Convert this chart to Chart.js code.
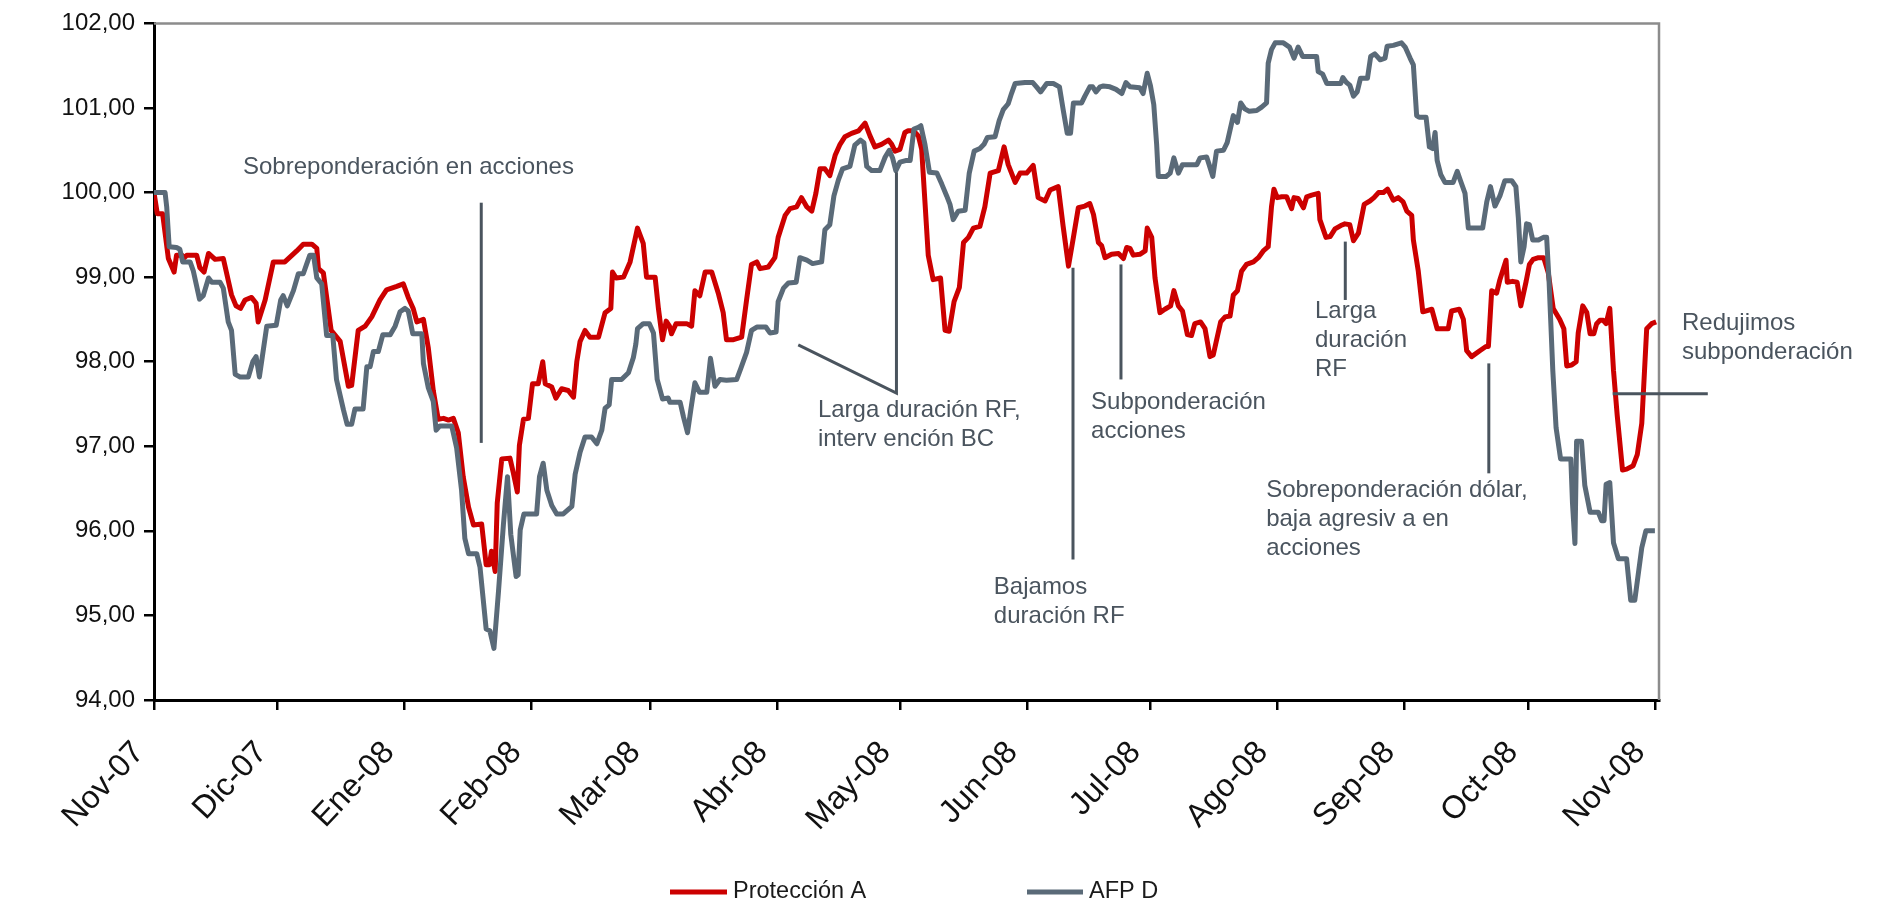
<!DOCTYPE html>
<html><head><meta charset="utf-8">
<script src="https://cdn.jsdelivr.net/npm/chart.js@4.4.0/dist/chart.umd.min.js"></script>
<style>html,body{margin:0;padding:0;background:#fff;overflow:hidden}canvas{display:block}</style>
</head><body>
<canvas id="c" width="1877" height="907"></canvas>
<script>
// ---- data ----
const seriesNames = ['Protección A', 'AFP D'];
const monthDays = [0,30,61,92,121,152,182,213,243,274,305,335,366];
const monthLabels = ['Nov-07','Dic-07','Ene-08','Feb-08','Mar-08','Abr-08','May-08','Jun-08','Jul-08','Ago-08','Sep-08','Oct-08','Nov-08'];

const dayA = [0,0.8,2.1,3.5,4.9,5.5,6.8,7.2,8.0,10.4,11.2,12.2,13.3,14.9,16.9,18.9,20.0,21.1,22.2,23.8,24.9,25.4,27.1,29.1,31.9,34.8,36.4,38.5,39.7,40.1,41.3,43.2,45.4,47.4,48.2,49.8,51.5,53.1,55.1,56.7,59.2,60.8,
62.0,63.2,64.1,65.7,66.9,68.1,69.3,70.6,71.8,73.0,74.2,75.4,76.7,77.9,79.9,81.0,81.8,82.3,83.2,83.7,84.8,86.8,87.6,88.6,89.1,90.1,91.3,92.3,93.7,94.8,95.4,97.0,98.0,99.4,101.0,102.3,103.1,103.9,105.1,106.3,108.4,110.0,111.4,111.8,112.7,114.5,116.1,117.9,119.3,120.1,122.2,
123.0,124.0,124.9,125.7,126.2,127.3,129.9,131.1,131.9,133.1,134.4,136.0,137.6,138.8,139.6,141.3,143.3,144.5,145.7,147.0,147.8,149.8,151.4,152.2,153.9,155.1,156.7,157.9,159.2,160.4,161.4,162.4,163.6,164.8,166.1,167.3,168.5,170.1,171.8,173.4,174.6,175.8,177.4,179.1,179.9,180.7,181.9,183.1,
183.9,185.2,186.4,187.2,188.0,188.8,190.0,191.8,192.9,193.9,195.1,196.4,197.4,198.6,199.8,201.4,202.6,203.9,205.9,207.3,208.3,210.0,211.2,212.8,214.4,215.6,217.3,218.5,220.5,221.7,223.0,224.2,225.4,227.0,228.2,229.1,230.3,231.1,231.9,233.5,235.2,236.4,237.2,238.0,238.8,240.4,241.7,242.2,243.3,244.1,245.3,
246.5,247.9,248.7,249.8,250.8,252.0,253.0,253.8,255.2,256.3,257.5,258.3,260.1,261.2,262.4,263.2,264.2,265.2,266.4,268.1,269.3,270.5,271.7,272.5,273.1,273.9,275.0,276.2,277.4,278.0,279.0,280.3,281.1,282.3,283.9,284.3,285.8,286.8,288.0,289.4,290.4,291.6,292.5,293.7,295.1,296.5,297.5,298.6,299.8,300.8,302.2,303.4,304.6,305.5,
306.7,307.1,308.3,309.4,311.6,312.9,315.6,316.4,318.3,319.3,320.1,321.3,323.3,324.8,325.4,326.2,327.4,328.2,329.7,330.0,331.3,332.4,333.3,334.6,335.4,336.3,337.6,338.9,340.0,341.2,342.8,343.8,344.5,345.7,346.8,347.3,348.4,349.4,350.2,351.1,351.8,352.6,353.4,354.1,355.0,355.9,356.8,358.1,359.1,360.7,361.7,362.8,364.0,365.2,366.3];
const protA = [100.00,99.75,99.75,99.22,99.06,99.26,99.26,99.22,99.26,99.26,99.11,99.06,99.28,99.21,99.22,98.79,98.66,98.63,98.73,98.76,98.69,98.47,98.73,99.18,99.18,99.31,99.39,99.39,99.34,99.10,99.05,98.37,98.24,97.71,97.72,98.37,98.42,98.53,98.73,98.85,98.89,98.92,
98.76,98.63,98.47,98.50,98.16,97.66,97.32,97.33,97.31,97.33,97.16,96.64,96.28,96.07,96.08,95.60,95.60,95.76,95.52,96.33,96.85,96.86,96.69,96.46,97.01,97.32,97.33,97.74,97.74,98.00,97.74,97.70,97.57,97.68,97.66,97.58,98.00,98.24,98.37,98.29,98.29,98.58,98.63,99.06,98.99,99.00,99.18,99.58,99.40,99.00,99.00,
98.63,98.26,98.48,98.42,98.33,98.45,98.45,98.42,98.84,98.78,99.06,99.06,98.81,98.58,98.26,98.26,98.29,98.73,99.15,99.18,99.10,99.12,99.23,99.47,99.73,99.81,99.83,99.94,99.83,99.78,99.99,100.28,100.28,100.20,100.44,100.57,100.66,100.70,100.73,100.82,100.67,100.54,100.57,100.62,100.57,100.49,100.51,100.71,
100.73,100.73,100.67,100.51,99.89,99.26,98.97,98.99,98.37,98.36,98.71,98.88,99.41,99.47,99.58,99.60,99.83,100.23,100.26,100.54,100.33,100.12,100.23,100.23,100.32,99.94,99.90,100.03,100.07,99.60,99.13,99.47,99.82,99.84,99.87,99.74,99.41,99.37,99.23,99.27,99.28,99.22,99.35,99.34,99.26,99.27,99.31,99.58,99.47,98.99,98.58,
98.62,98.66,98.84,98.66,98.60,98.32,98.31,98.45,98.47,98.39,98.06,98.08,98.47,98.53,98.54,98.79,98.84,99.07,99.15,99.18,99.23,99.31,99.36,99.83,100.04,99.94,99.95,99.95,99.81,99.94,99.93,99.82,99.95,99.97,99.99,99.68,99.47,99.48,99.57,99.61,99.63,99.62,99.43,99.52,99.86,99.90,99.94,100.00,100.00,100.04,99.91,99.94,99.89,99.78,
99.73,99.44,99.07,98.59,98.62,98.39,98.39,98.60,98.62,98.50,98.13,98.06,98.13,98.18,98.18,98.84,98.81,98.97,99.20,98.94,98.95,98.94,98.66,98.95,99.15,99.21,99.23,99.23,99.05,98.63,98.50,98.39,97.95,97.96,98.00,98.34,98.66,98.58,98.33,98.33,98.45,98.49,98.49,98.45,98.63,97.90,97.37,96.72,96.73,96.77,96.90,97.27,98.39,98.45,98.47];

const dayD = [0,2.7,3.1,3.7,5.5,6.3,7.0,8.8,9.6,11.1,12.0,13.3,14.1,16.1,16.9,18.1,18.9,19.8,21.0,23.0,24.1,24.9,25.7,27.5,29.8,30.9,31.5,32.5,34.0,35.2,36.4,37.2,38.0,38.9,39.7,40.9,42.1,43.6,44.5,46.2,47.1,48.2,49.0,51.0,51.9,52.7,53.5,54.7,55.8,57.6,58.8,60.0,61.2,62.0,
63.1,65.3,65.7,66.9,68.1,68.8,69.7,72.6,73.8,75.0,75.8,76.7,78.7,79.5,81.0,81.9,82.9,84.0,85.2,86.2,87.0,88.3,88.8,89.3,90.2,93.3,94.0,94.9,95.8,97.0,98.2,99.8,101.9,102.7,103.9,105.1,106.7,108.0,109.2,110.0,111.0,111.6,114.0,115.7,116.9,117.5,117.9,119.3,120.8,
121.8,122.7,124.0,125.4,125.8,128.3,129.1,130.1,130.9,131.9,133.0,134.8,135.7,136.8,138.0,139.6,142.1,143.1,144.5,145.7,147.0,149.2,150.2,151.7,152.2,153.5,154.7,156.6,157.5,159.2,160.6,162.8,163.6,164.8,165.8,166.9,167.9,169.7,170.9,172.3,173.1,173.8,175.0,177.0,178.3,179.3,180.1,180.9,181.9,183.5,
184.4,185.3,186.4,187.0,188.0,189.1,190.9,192.1,193.3,194.1,194.9,196.1,197.8,198.8,200.0,201.4,202.4,203.2,205.1,206.1,207.1,208.3,209.1,210.0,212.4,214.3,215.2,216.2,217.7,219.3,220.8,221.7,222.7,223.5,224.2,226.2,227.0,228.2,228.9,229.7,230.7,231.5,233.1,234.6,236.0,237.0,238.0,240.4,241.2,242.2,243.0,243.8,244.5,
244.9,246.8,247.8,248.7,249.8,250.8,254.3,255.1,256.7,257.3,258.2,259.1,260.8,261.7,263.2,264.2,265.0,266.0,267.1,268.9,270.1,271.3,271.7,272.5,273.4,275.4,276.9,278.0,279.0,280.1,283.5,283.9,285.0,286.0,289.4,289.9,290.8,291.6,292.5,293.4,294.2,295.9,296.7,297.7,299.0,300.2,300.7,302.2,304.2,305.1,306.3,
307.1,307.9,308.5,310.2,311.0,311.8,312.4,312.9,313.8,314.8,316.8,317.8,318.6,319.7,320.5,324.0,325.0,325.9,327.0,328.2,329.4,331.1,332.1,332.7,333.3,334.1,334.7,335.4,336.2,337.6,338.8,339.6,340.2,341.1,341.9,343.0,345.5,345.9,346.5,346.9,348.1,348.9,350.2,352.2,353.0,353.6,354.1,355.0,355.9,357.1,359.1,360.1,361.1,362.8,363.8,366.0];
const afpD = [100.00,100.00,99.83,99.36,99.35,99.33,99.18,99.18,99.07,98.74,98.78,98.99,98.94,98.94,98.87,98.47,98.37,97.85,97.82,97.82,98.00,98.06,97.82,98.42,98.43,98.73,98.78,98.66,98.84,99.04,99.04,99.15,99.26,99.26,98.99,98.92,98.31,98.31,97.79,97.43,97.26,97.26,97.44,97.44,97.94,97.94,98.12,98.12,98.32,98.32,98.42,98.59,98.63,98.60,
98.33,98.33,97.98,97.69,97.53,97.19,97.24,97.24,96.98,96.48,95.91,95.73,95.73,95.57,94.84,94.82,94.61,95.28,96.07,96.64,95.96,95.46,95.48,96.01,96.20,96.20,96.64,96.80,96.48,96.30,96.20,96.20,96.29,96.67,96.93,97.11,97.11,97.03,97.19,97.45,97.49,97.79,97.79,97.87,98.05,98.21,98.39,98.45,98.45,
98.34,97.79,97.56,97.57,97.52,97.52,97.35,97.16,97.43,97.75,97.64,97.64,98.04,97.71,97.79,97.78,97.79,97.92,98.11,98.37,98.41,98.41,98.34,98.35,98.71,98.87,98.93,98.94,99.23,99.20,99.16,99.18,99.56,99.62,99.96,100.15,100.28,100.31,100.56,100.62,100.59,100.31,100.26,100.26,100.42,100.50,100.41,100.26,100.36,100.38,
100.38,100.75,100.77,100.79,100.57,100.24,100.23,100.10,99.96,99.86,99.68,99.78,99.79,100.23,100.49,100.52,100.57,100.65,100.66,100.85,100.98,101.05,101.17,101.29,101.30,101.30,101.25,101.19,101.29,101.29,101.25,100.98,100.70,100.70,101.06,101.06,101.14,101.25,101.25,101.19,101.25,101.26,101.25,101.22,101.17,101.30,101.25,101.24,101.17,101.41,101.26,101.04,100.57,
100.19,100.19,100.23,100.41,100.23,100.33,100.33,100.41,100.42,100.33,100.19,100.49,100.50,100.59,100.91,100.83,101.06,100.99,100.96,100.97,101.01,101.06,101.53,101.69,101.77,101.77,101.72,101.59,101.72,101.61,101.61,101.43,101.40,101.29,101.29,101.36,101.30,101.27,101.14,101.19,101.35,101.35,101.61,101.64,101.57,101.59,101.73,101.74,101.77,101.72,101.59,
101.51,100.91,100.89,100.89,100.54,100.52,100.71,100.38,100.21,100.12,100.12,100.25,100.14,99.99,99.58,99.58,99.89,100.07,99.84,99.96,100.14,100.14,100.07,99.70,99.18,99.36,99.63,99.62,99.44,99.44,99.47,99.47,98.94,97.90,97.22,96.85,96.85,96.33,95.85,97.06,97.06,96.54,96.22,96.22,96.12,96.12,96.55,96.57,95.86,95.67,95.67,95.18,95.18,95.80,96.00,96.00];

// annotations: text anchored at (day, value of first line middle); leader lines as polylines in (day, value)
const noteTexts = [
  {x:21.7,  y:100.30, text:['Sobreponderación en acciones']},
  {x:161.9, y:97.42,  text:['Larga duración RF,','interv ención BC']},
  {x:204.8, y:95.33,  text:['Bajamos','duración RF']},
  {x:228.5, y:97.52,  text:['Subponderación','acciones']},
  {x:283.1, y:98.59,  text:['Larga','duración','RF']},
  {x:271.2, y:96.48,  text:['Sobreponderación dólar,','baja agresiv a en','acciones']},
  {x:372.6, y:98.45,  text:['Redujimos','subponderación']}
];
const noteLines = [
  [[79.8,99.88],[79.8,97.04]],
  [[157.1,98.20],[181.05,97.63],[181.05,100.24]],
  [[224.1,99.11],[224.1,95.66]],
  [[235.8,99.15],[235.8,97.79]],
  [[290.5,99.42],[290.5,98.73]],
  [[325.5,97.98],[325.5,96.68]],
  [[355.7,97.62],[378.9,97.62]]
];

// ---- styles ----
const FAM = "'Liberation Sans', Arial, Helvetica, sans-serif";
const COLORS = ['#cc0000', '#5a6a78'];
const NOTE_COLOR = '#4a545e';
Chart.defaults.font.family = FAM;

const decor = {
  id: 'decor',
  afterDraw(chart) {
    const {ctx, chartArea: a, scales: {x, y}} = chart;
    ctx.save();
    // top & right frame
    ctx.strokeStyle = '#8c8c8c'; ctx.lineWidth = 2.5;
    ctx.beginPath(); ctx.moveTo(a.left, a.top); ctx.lineTo(a.right, a.top); ctx.lineTo(a.right, a.bottom); ctx.stroke();
    // leader lines
    ctx.strokeStyle = NOTE_COLOR; ctx.lineWidth = 3; ctx.lineCap = 'butt';
    noteLines.forEach(pl => {
      ctx.beginPath();
      pl.forEach((p, i) => { const px = x.getPixelForValue(p[0]), py = y.getPixelForValue(p[1]); i ? ctx.lineTo(px, py) : ctx.moveTo(px, py); });
      ctx.stroke();
    });
    // notes
    ctx.fillStyle = NOTE_COLOR; ctx.font = '24px ' + FAM; ctx.textAlign = 'left'; ctx.textBaseline = 'middle';
    noteTexts.forEach(n => {
      const px = x.getPixelForValue(n.x), py = y.getPixelForValue(n.y);
      n.text.forEach((t, i) => ctx.fillText(t, px, py + i * 29));
    });
    // legend
    const items = [{x0: 670, x1: 727}, {x0: 1027, x1: 1083}];
    const ly = 892;
    ctx.font = '23.5px ' + FAM; ctx.fillStyle = '#1a1a1a';
    chart.data.datasets.forEach((ds, i) => {
      const it = items[i];
      ctx.strokeStyle = ds.borderColor; ctx.lineWidth = 5;
      ctx.beginPath(); ctx.moveTo(it.x0, ly); ctx.lineTo(it.x1, ly); ctx.stroke();
      ctx.fillText(ds.label, it.x1 + 6, ly);
    });
    ctx.restore();
  }
};

new Chart(document.getElementById('c'), {
  type: 'line',
  data: {
    datasets: [
      {label: seriesNames[0], data: dayA.map((d, i) => ({x: d, y: protA[i]})), borderColor: COLORS[0], borderWidth: 5, pointRadius: 0, tension: 0, borderJoinStyle: 'round', order: 2},
      {label: seriesNames[1], data: dayD.map((d, i) => ({x: d, y: afpD[i]})), borderColor: COLORS[1], borderWidth: 5, pointRadius: 0, tension: 0, borderJoinStyle: 'round', order: 1}
    ]
  },
  options: {
    responsive: false, animation: false, devicePixelRatio: 1,
    layout: {padding: {top: 22, right: 218, left: 0, bottom: 0}},
    plugins: {legend: {display: false}, tooltip: {enabled: false}},
    scales: {
      x: {
        type: 'linear', min: 0, max: 367,
        afterBuildTicks: a => { a.ticks = monthDays.map(v => ({value: v})); },
        afterFit: s => { s.height = 207; },
        ticks: {autoSkip: false, maxRotation: 47, minRotation: 47, padding: 24, labelOffset: -15, color: '#111', font: {family: FAM, size: 32},
          callback: v => { const i = monthDays.indexOf(v); return i >= 0 ? monthLabels[i] : ''; }},
        grid: {drawOnChartArea: false, drawTicks: true, tickLength: 10, color: '#000', lineWidth: 2.5},
        border: {display: true, color: '#000', width: 3}
      },
      y: {
        min: 94, max: 102,
        afterFit: s => { s.width = 154; },
        ticks: {stepSize: 1, padding: 9, color: '#111', font: {family: FAM, size: 24},
          callback: v => Number(v).toFixed(2).replace('.', ',')},
        grid: {drawOnChartArea: false, drawTicks: true, tickLength: 10, color: '#000', lineWidth: 2.5},
        border: {display: true, color: '#000', width: 3}
      }
    }
  },
  plugins: [decor]
});
</script>
</body></html>
